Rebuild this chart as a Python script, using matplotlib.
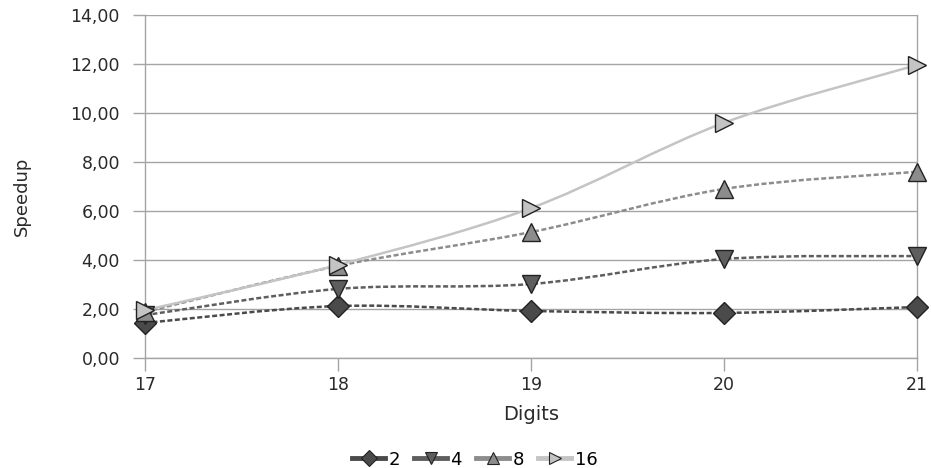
import numpy as np
import matplotlib.pyplot as plt
from matplotlib.path import Path
from matplotlib.patches import PathPatch
from matplotlib.ticker import FuncFormatter

plt.rcParams['font.family'] = ['DejaVu Sans']

digits = [17, 18, 19, 20, 21]
speedup_2 = [1.43, 2.12, 1.92, 1.84, 2.08]
speedup_4 = [1.75, 2.82, 3.02, 4.04, 4.16]
speedup_8 = [1.88, 3.76, 5.14, 6.90, 7.60]
speedup_16 = [1.95, 3.80, 6.12, 9.60, 11.96]
labels = ['2', '4', '8', '16']


def smooth_path(x, y):
    # cubic Bezier segments (Catmull-Rom style) like a smoothed office chart line
    x = np.asarray(x, float)
    y = np.asarray(y, float)
    verts = [(x[0], y[0])]
    codes = [Path.MOVETO]
    n = len(x)
    for i in range(n - 1):
        x0, y0 = (x[i - 1], y[i - 1]) if i > 0 else (x[i], y[i])
        x3, y3 = (x[i + 2], y[i + 2]) if i + 2 < n else (x[i + 1], y[i + 1])
        c1 = (x[i] + (x[i + 1] - x0) / 6, y[i] + (y[i + 1] - y0) / 6)
        c2 = (x[i + 1] - (x3 - x[i]) / 6, y[i + 1] - (y3 - y[i]) / 6)
        verts += [c1, c2, (x[i + 1], y[i + 1])]
        codes += [Path.CURVE4] * 3
    return Path(verts, codes)


fig = plt.figure(figsize=(9.31, 4.68), dpi=100)
ax = fig.add_axes([145 / 931, 1 - 358 / 468, 772 / 931, 343 / 468])

series = [
    (speedup_2, 'D', '#4a4a4a', '#4a4a4a', (0, (2, 1)), 11),
    (speedup_4, 'v', '#5e5e5e', '#5e5e5e', (0, (2, 1)), 13),
    (speedup_8, '^', '#8c8c8c', '#8c8c8c', (0, (2, 1)), 13),
    (speedup_16, '>', '#c4c4c4', '#c4c4c4', '-', 13),
]

for (vals, mk, lc, fc, ls, ms), lab in zip(series, labels):
    patch = PathPatch(smooth_path(digits, vals), facecolor='none', edgecolor=lc,
                      linewidth=1.8, linestyle=ls, zorder=3)
    ax.add_patch(patch)
    ax.plot(digits, vals, linestyle='none', marker=mk,
            markersize=ms, markerfacecolor=fc, markeredgecolor='#222222',
            markeredgewidth=1.0, zorder=4, clip_on=False)
    ax.plot([], [], linestyle='-', color=lc, linewidth=3.5, marker=mk,
            markersize=8, markerfacecolor=fc, markeredgecolor='#222222',
            markeredgewidth=0.8, label=lab)

ax.set_xlim(17, 21)
ax.set_ylim(0, 14)
ax.set_xticks(digits)
ax.set_yticks(np.arange(0, 15, 2))
ax.yaxis.set_major_formatter(FuncFormatter(lambda v, p: f'{v:.2f}'.replace('.', ',')))
ax.grid(axis='y', color='#a4a4a4', linewidth=1)
ax.set_axisbelow(True)
for s in ['left', 'right', 'bottom']:
    ax.spines[s].set_color('#a4a4a4')
    ax.spines[s].set_linewidth(1)
ax.spines['top'].set_visible(False)
ax.tick_params(axis='both', colors='#a4a4a4', labelcolor='#2a2a2a', labelsize=12.5,
               length=9, width=1)
ax.tick_params(axis='y', pad=9)
ax.tick_params(axis='x', pad=4)

ax.set_xlabel('Digits', fontsize=14, color='#2a2a2a', labelpad=8)
ax.set_ylabel('Speedup', fontsize=13, color='#2a2a2a')
ax.yaxis.set_label_coords(-0.148, 0.47)

fig.legend(loc='lower center', bbox_to_anchor=(0.51, -0.036), ncol=4, frameon=False,
           fontsize=13, handlelength=1.8, handletextpad=0.2, columnspacing=0.8)

fig.savefig('out.png', dpi=100)
